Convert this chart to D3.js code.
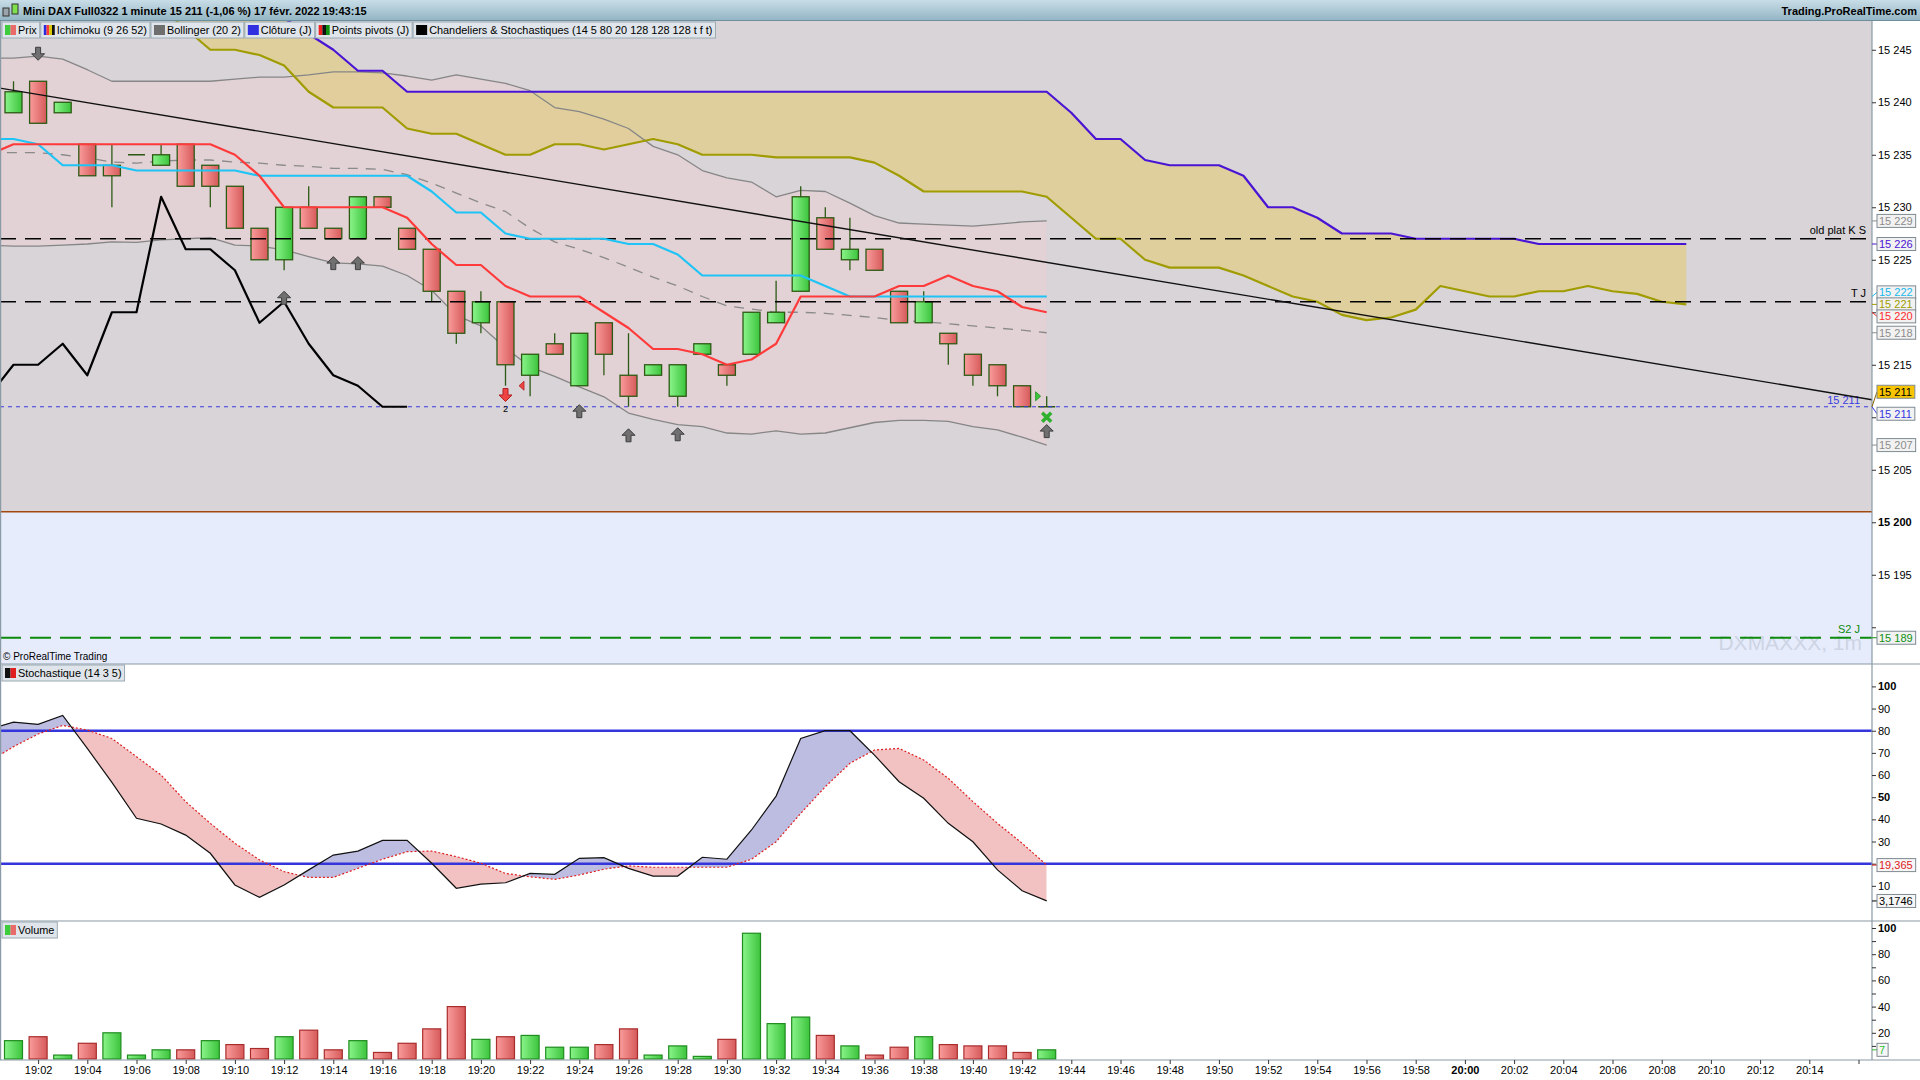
<!DOCTYPE html>
<html>
<head>
<meta charset="utf-8">
<title>Mini DAX Full0322 - 1 minute</title>
<script src="https://cdn.jsdelivr.net/npm/d3@7"></script>
<style>
  body { margin: 0; background: #fff; }
  svg { display: block; font-family: "Liberation Sans", Arial, sans-serif; }
</style>
</head>
<body>
<svg id="chart" width="1920" height="1080"></svg>
<script>
// ---- values; bar index 0 = 19:01 ----
var opens  = [15239,15242,15239,15236,15234,15235,15234,15236,15234,15232,15228,15225,15230,15228,15227,15231,15228,15226,15222,15219,15221,15214,15217,15213,15219,15214,15214,15212,15216,15215,15216,15219,15222,15229,15225,15226,15222,15219,15218,15216,15215,15213,15211];
var highs  = [15242,15242,15240,15236,15236,15235,15236,15236,15234,15232,15228,15230,15232,15228,15231,15231,15228,15226,15222,15222,15221,15216,15218,15218,15219,15218,15215,15215,15217,15215,15220,15223,15232,15230,15229,15226,15222,15222,15218,15216,15215,15213,15212];
var lows   = [15239,15238,15239,15233,15230,15235,15234,15232,15230,15228,15225,15224,15228,15227,15227,15230,15226,15221,15217,15218,15213,15212,15216,15213,15214,15211,15214,15211,15216,15213,15216,15219,15222,15226,15224,15224,15219,15219,15215,15213,15212,15211,15211];
var closes = [15241,15238,15240,15233,15233,15235,15235,15232,15232,15228,15225,15230,15228,15227,15231,15230,15226,15222,15218,15221,15215,15216,15216,15218,15216,15212,15215,15215,15217,15214,15220,15220,15231,15226,15226,15224,15219,15221,15217,15214,15213,15211,15211];
var volumes = [14,17,3,12,20,3,7,7,14,11,8,17,22,7,14,5,12,23,40,15,17,18,9,9,11,23,3,10,2,15,96,27,32,18,10,3,9,17,11,10,10,5,7];

// Bollinger (20 2), from index -1
var bbUpper  = [15244.2,15244.2,15244.4,15244.1,15243.1,15242.0,15242.0,15242.0,15242.0,15242.0,15242.2,15242.4,15242.4,15242.6,15242.9,15242.9,15242.8,15242.5,15242.1,15242.6,15242.2,15241.8,15241.1,15239.5,15239.1,15238.4,15237.5,15235.8,15235.0,15233.5,15232.8,15232.4,15231.0,15231.6,15231.5,15230.4,15229.2,15228.5,15228.4,15228.3,15228.2,15228.4,15228.6,15228.7];
var bbMiddle = [15235.2,15235.2,15235.2,15235.0,15234.7,15234.3,15234.2,15234.4,15234.5,15234.5,15234.3,15234.2,15234.0,15233.9,15233.7,15233.7,15233.6,15233.1,15232.3,15231.35,15230.4,15229.6,15228.0,15226.7,15226.0,15225.2,15224.3,15223.35,15222.5,15221.5,15220.6,15220.3,15220.0,15220.0,15219.9,15219.7,15219.5,15219.2,15219.1,15218.9,15218.7,15218.5,15218.3,15218.05];
var bbLower  = [15226.4,15226.3,15226.3,15226.4,15226.5,15226.7,15226.65,15226.9,15227.0,15227.1,15226.4,15226.3,15225.95,15225.3,15224.7,15224.6,15224.4,15223.5,15222.1,15219.7,15218.7,15216.6,15214.8,15213.9,15212.9,15211.95,15210.4,15209.8,15209.3,15209.1,15208.5,15208.4,15208.7,15208.4,15208.5,15209.0,15209.5,15209.7,15209.7,15209.6,15209.1,15208.8,15208.1,15207.35];

// Ichimoku (9 26 52): tenkan / kijun / chikou from index -1, senkou spans from index 6
var tenkan = [15235,15236,15236,15236,15236,15236,15236,15236,15236,15236,15235,15233,15230,15230,15230,15230,15230,15229,15226.5,15224.5,15224.5,15222.5,15221.5,15221.5,15221.5,15220,15218.5,15216.5,15216.5,15216,15215,15215.5,15217,15221.5,15221.5,15221.5,15221.5,15222.5,15222.5,15223.5,15222.5,15222,15220.5,15220];
var kijun  = [15236.5,15236.5,15236,15234,15234,15234,15233.5,15233.5,15233.5,15233.5,15233.5,15233,15233,15233,15233,15233,15233,15233,15231.5,15229.5,15229.5,15227.5,15227,15227,15227,15227,15226.5,15226.5,15225.5,15223.5,15223.5,15223.5,15223.5,15223.5,15222.5,15221.5,15221.5,15221.5,15221.5,15221.5,15221.5,15221.5,15221.5,15221.5];
var chikou = [15212,15215,15215,15217,15214,15220,15220,15231,15226,15226,15224,15219,15221,15217,15214,15213,15211,15211];
var senkouA = [15249,15247,15245,15245,15244.5,15243.5,15241,15239.5,15239.5,15239.5,15237.5,15237,15237,15236,15235,15235,15236,15236,15235.5,15236,15236.5,15236,15235,15235,15235,15234.75,15234.75,15234.75,15234.75,15234.25,15233,15231.5,15231.5,15231.5,15231.5,15231.5,15231,15229,15227,15227,15225,15224.25,15224.25,15224.25,15223.5,15222.5,15221.5,15221,15219.75,15219.25,15219.5,15220.25,15222.5,15222,15221.5,15221.5,15222,15222,15222.5,15222,15221.75,15221,15220.75];
var senkouB = [15250,15250,15250,15250,15250,15248,15246.5,15245,15243,15243,15241,15241,15241,15241,15241,15241,15241,15241,15241,15241,15241,15241,15241,15241,15241,15241,15241,15241,15241,15241,15241,15241,15241,15241,15241,15241,15241,15239,15236.5,15236.5,15234.5,15234,15234,15234,15233,15230,15230,15229,15227.5,15227.5,15227.5,15227,15227,15227,15227,15227,15226.5,15226.5,15226.5,15226.5,15226.5,15226.5,15226.5];

// Stochastique (14 3 5), from index -1
var stochK = [80.5,83.9,82.9,86.9,72.0,56.7,40.5,37.9,32.9,24.7,10.4,4.8,10.4,17.2,23.9,25.7,30.5,30.5,20.2,8.9,10.8,11.4,15.6,15.2,22.4,22.7,17.9,14.4,14.4,22.9,22.0,35.2,50.5,76.5,80,80,69.0,57.0,49.5,38.2,29.9,17.2,7.8,3.2];
var stochD = [66,72.8,78.5,82.4,80.3,76.5,68.3,60.0,48.0,38.2,29.2,21.7,16.4,13.8,13.8,17.9,22.0,25.4,25.7,23.2,20.2,15.6,14.1,12.9,14.9,17.5,19.0,18.4,18.4,18.4,18.4,22.0,29.9,42.7,54.7,65.3,71.3,72.0,66.8,58.5,48.0,38.2,29.2,19.4];
var stochLevels = [80, 20];

// drawn objects
var levelValues = [15227, 15221, 15189];
var levelNames = ["old plat K S", "T J", "S2 J"];
var zoneLevel = 15201;
var trendIdx = [-0.55, 75.55];
var trendPrice = [15241.35, 15211.67];

// signal markers (bar index, price of the tip)
var upArrowIdx = [11, 13, 14, 23, 25, 27, 42];
var upArrowTip = [15222, 15225.3, 15225.3, 15211.2, 15208.9, 15209, 15209.3];
var downArrowIdx = [1];
var downArrowTip = [15244];
var sellIdx = [20], sellTip = [15211.5], sellText = ["2"];
var leftTriIdx = [20.55], leftTriPrice = [15213];
var rightTriIdx = [41.55], rightTriPrice = [15212];
var crossIdx = [42], crossPrice = [15210];

// last-value tags on the right scale
var priceTagValues = [15228.7, 15226.5, 15221.5, 15220.75, 15220, 15218.05, 15211, 15211, 15207.35, 15189];
var priceTagTexts  = ["15 229", "15 226", "15 222", "15 221", "15 220", "15 218", "15 211", "15 211", "15 207", "15 189"];
var stochTagValues = [19.365, 3.1746];
var stochTagTexts  = ["19,365", "3,1746"];
var volTagValues = [7];
var volTagTexts = ["7"];

var titleText = "Mini DAX Full0322 1 minute 15 211 (-1,06 %) 17 févr. 2022 19:43:15";
var legendLabels = ["Prix", "Ichimoku (9 26 52)", "Bollinger (20 2)", "Clôture (J)", "Points pivots (J)", "Chandeliers & Stochastiques (14 5 80 20 128 128 128 t f t)"];

// ---- layout ----
var width = 1920, height = 1080;
var axisX = 1872;
var priceTop = 21, priceBottom = 664, stochBottom = 921, volBottom = 1060;

var t0 = new Date(2022, 1, 17, 19, 1);
function timeAt(i) { return new Date(t0.getTime() + i * 60000); }

var xIdx = d3.scaleLinear().domain([0, 1]).range([13.5, 38.1]);
var xTime = d3.scaleTime()
  .domain([timeAt(xIdx.invert(0)), timeAt(xIdx.invert(axisX))])
  .range([0, axisX]);
var yPrice = d3.scaleLinear().domain([15186.5, 15247.74]).range([priceBottom, priceTop]);
var yStoch = d3.scaleLinear().domain([0, 100]).range([908, 686.4]);
var yVol = d3.scaleLinear().domain([0, 100]).range([1059, 928]);

var fmtSpace = function (v) { return String(v).replace(/\B(?=(\d{3})+(?!\d))/g, " "); };

var svg = d3.select("#chart");
var defs = svg.append("defs");

function hGrad(id, c1, c2) {
  var g = defs.append("linearGradient").attr("id", id)
    .attr("x1", 0).attr("x2", 1).attr("y1", 0).attr("y2", 0);
  g.append("stop").attr("offset", 0).attr("stop-color", c1);
  g.append("stop").attr("offset", 1).attr("stop-color", c2);
}
hGrad("gUp", "#8af48a", "#3cc43c");
hGrad("gDown", "#fa9c9c", "#d65a5a");
var tg = defs.append("linearGradient").attr("id", "gTitle")
  .attr("x1", 0).attr("x2", 0).attr("y1", 0).attr("y2", 1);
tg.append("stop").attr("offset", 0).attr("stop-color", "#c8dde7");
tg.append("stop").attr("offset", 1).attr("stop-color", "#92b4c3");

defs.append("clipPath").attr("id", "clipPrice").append("rect")
  .attr("x", 0).attr("y", priceTop).attr("width", axisX).attr("height", priceBottom - priceTop);
defs.append("clipPath").attr("id", "clipStoch").append("rect")
  .attr("x", 0).attr("y", priceBottom).attr("width", axisX).attr("height", stochBottom - priceBottom);

svg.append("rect").attr("width", width).attr("height", height).attr("fill", "#fff");

/* ---------- price panel ---------- */
var price = svg.append("g").attr("clip-path", "url(#clipPrice)");

price.append("rect")
  .attr("x", 0).attr("y", priceTop).attr("width", axisX).attr("height", priceBottom - priceTop)
  .attr("fill", "#d8d4d8");
price.append("rect")
  .attr("x", 0).attr("y", yPrice(zoneLevel)).attr("width", axisX)
  .attr("height", priceBottom - yPrice(zoneLevel))
  .attr("fill", "#e6ecfc");
price.append("line")
  .attr("x1", 0).attr("x2", axisX).attr("y1", yPrice(zoneLevel)).attr("y2", yPrice(zoneLevel))
  .attr("stroke", "#a04a10").attr("stroke-width", 1.5);

price.append("text")
  .attr("x", 1862).attr("y", 650).attr("text-anchor", "end")
  .attr("font-size", 21).attr("fill", "#cdd4e4")
  .text("DXMAXXX, 1m");

var bb = bbUpper.map(function (u, j) { return { i: j - 1, u: u, m: bbMiddle[j], l: bbLower[j] }; });
price.append("path").datum(bb)
  .attr("d", d3.area().x(d => xIdx(d.i)).y0(d => yPrice(d.l)).y1(d => yPrice(d.u)))
  .attr("fill", "#e2d1d5");

var cloud = senkouA.map(function (a, j) { return { i: j + 6, a: a, b: senkouB[j] }; });
price.append("path").datum(cloud)
  .attr("d", d3.area().x(d => xIdx(d.i)).y0(d => yPrice(d.b)).y1(d => yPrice(d.a)))
  .attr("fill", "#e0cd87").attr("fill-opacity", 0.72);

function seriesLine(values, start, color, w, dash) {
  var pts = values.map(function (v, j) { return { i: j + start, v: v }; });
  var p = price.append("path").datum(pts)
    .attr("d", d3.line().x(d => xIdx(d.i)).y(d => yPrice(d.v)))
    .attr("fill", "none").attr("stroke", color).attr("stroke-width", w)
    .attr("stroke-linejoin", "round");
  if (dash) p.attr("stroke-dasharray", dash);
  return p;
}

seriesLine(bbUpper, -1, "#868686", 1.3);
seriesLine(bbLower, -1, "#868686", 1.3);
seriesLine(bbMiddle, -1, "#8a8a8a", 1.3, "10,8");
seriesLine(senkouA, 6, "#a09c00", 2.2);
seriesLine(senkouB, 6, "#4a14d4", 2.2);

// candles
var candles = opens.map(function (o, i) {
  return { i: i, o: o, h: highs[i], l: lows[i], c: closes[i] };
});
var cg = price.append("g");
cg.selectAll(".wick").data(candles).enter().append("line")
  .attr("x1", d => xIdx(d.i)).attr("x2", d => xIdx(d.i))
  .attr("y1", d => yPrice(d.h)).attr("y2", d => yPrice(d.l))
  .attr("stroke", "#2c5a14").attr("stroke-width", 1.3);
cg.selectAll(".body").data(candles.filter(d => d.o !== d.c)).enter().append("rect")
  .attr("x", d => xIdx(d.i) - 8.5).attr("width", 17)
  .attr("y", d => yPrice(Math.max(d.o, d.c)))
  .attr("height", d => yPrice(Math.min(d.o, d.c)) - yPrice(Math.max(d.o, d.c)))
  .attr("fill", d => d.c > d.o ? "url(#gUp)" : "url(#gDown)")
  .attr("stroke", "#2c5a14").attr("stroke-width", 1.3);
cg.selectAll(".doji").data(candles.filter(d => d.o === d.c)).enter().append("line")
  .attr("x1", d => xIdx(d.i) - 8.5).attr("x2", d => xIdx(d.i) + 8.5)
  .attr("y1", d => yPrice(d.c)).attr("y2", d => yPrice(d.c))
  .attr("stroke", "#2c5a14").attr("stroke-width", 1.5);

// horizontal levels
var levelStyle = [
  { color: "#000", w: 1.5, dash: "16,9", tx: 1866 },
  { color: "#000", w: 1.5, dash: "16,9", tx: 1866 },
  { color: "#0c8a0c", w: 2.2, dash: "21,9", tx: 1860 }
];
levelValues.forEach(function (v, k) {
  var s = levelStyle[k];
  price.append("line")
    .attr("x1", 0).attr("x2", axisX).attr("y1", yPrice(v)).attr("y2", yPrice(v))
    .attr("stroke", s.color).attr("stroke-width", s.w).attr("stroke-dasharray", s.dash);
  price.append("text")
    .attr("x", s.tx).attr("y", yPrice(v) - 5).attr("text-anchor", "end")
    .attr("font-size", 11).attr("fill", s.color).text(levelNames[k]);
});

// last close (dotted)
var lastClose = closes[closes.length - 1];
price.append("line")
  .attr("x1", 0).attr("x2", axisX).attr("y1", yPrice(lastClose)).attr("y2", yPrice(lastClose))
  .attr("stroke", "#3a3ae0").attr("stroke-width", 1).attr("stroke-dasharray", "4,4");
price.append("text")
  .attr("x", 1860).attr("y", yPrice(lastClose) - 3).attr("text-anchor", "end")
  .attr("font-size", 11).attr("fill", "#3a3ae0").text(fmtSpace(lastClose));

// trend line
price.append("line")
  .attr("x1", xIdx(trendIdx[0])).attr("y1", yPrice(trendPrice[0]))
  .attr("x2", xIdx(trendIdx[1])).attr("y2", yPrice(trendPrice[1]))
  .attr("stroke", "#111").attr("stroke-width", 1.4);

seriesLine(kijun, -1, "#1ec4f6", 2.2);
seriesLine(tenkan, -1, "#ff3a3a", 2.2);
seriesLine(chikou, -1, "#000", 2.2);

// markers
var upPath = "M0,0 L6.5,6.5 L2.5,6.5 L2.5,13 L-2.5,13 L-2.5,6.5 L-6.5,6.5 Z";
var downPath = "M0,0 L6.5,-6.5 L2.5,-6.5 L2.5,-13 L-2.5,-13 L-2.5,-6.5 L-6.5,-6.5 Z";
upArrowIdx.forEach(function (i, k) {
  price.append("path").attr("d", upPath)
    .attr("transform", "translate(" + xIdx(i) + "," + yPrice(upArrowTip[k]) + ")")
    .attr("fill", "#707070").attr("stroke", "#3e3e3e").attr("stroke-width", 1);
});
downArrowIdx.forEach(function (i, k) {
  price.append("path").attr("d", downPath)
    .attr("transform", "translate(" + xIdx(i) + "," + yPrice(downArrowTip[k]) + ")")
    .attr("fill", "#707070").attr("stroke", "#3e3e3e").attr("stroke-width", 1);
});
sellIdx.forEach(function (i, k) {
  price.append("path").attr("d", downPath)
    .attr("transform", "translate(" + xIdx(i) + "," + yPrice(sellTip[k]) + ")")
    .attr("fill", "#ee4444").attr("stroke", "#b02020").attr("stroke-width", 1);
  price.append("text").attr("x", xIdx(i)).attr("y", yPrice(sellTip[k]) + 10)
    .attr("text-anchor", "middle").attr("font-size", 9).attr("fill", "#000").text(sellText[k]);
});
leftTriIdx.forEach(function (i, k) {
  price.append("path").attr("d", "M0,0 L5,-4.5 L5,4.5 Z")
    .attr("transform", "translate(" + xIdx(i) + "," + yPrice(leftTriPrice[k]) + ")")
    .attr("fill", "#ee4444").attr("stroke", "#b02020").attr("stroke-width", 0.8);
});
rightTriIdx.forEach(function (i, k) {
  price.append("path").attr("d", "M5,0 L0,-4.5 L0,4.5 Z")
    .attr("transform", "translate(" + xIdx(i) + "," + yPrice(rightTriPrice[k]) + ")")
    .attr("fill", "#3cc83c").attr("stroke", "#1e8c1e").attr("stroke-width", 0.8);
});
crossIdx.forEach(function (i, k) {
  var cx = xIdx(i), cy = yPrice(crossPrice[k]);
  price.append("path")
    .attr("d", "M" + (cx - 4.5) + "," + (cy - 4.5) + "L" + (cx + 4.5) + "," + (cy + 4.5) +
               "M" + (cx + 4.5) + "," + (cy - 4.5) + "L" + (cx - 4.5) + "," + (cy + 4.5))
    .attr("stroke", "#2fb02f").attr("stroke-width", 3.5);
});

price.append("text").attr("x", 3).attr("y", 660).attr("font-size", 10).attr("fill", "#000")
  .text("© ProRealTime Trading");

/* ---------- stochastic panel ---------- */
var stoch = stochK.map(function (k, j) { return { i: j - 1, k: k, d: stochD[j] }; });
defs.append("clipPath").attr("id", "clipAboveD").append("path").datum(stoch)
  .attr("d", d3.area().x(d => xIdx(d.i)).y0(priceBottom).y1(d => yStoch(d.d)));
defs.append("clipPath").attr("id", "clipBelowD").append("path").datum(stoch)
  .attr("d", d3.area().x(d => xIdx(d.i)).y0(stochBottom).y1(d => yStoch(d.d)));

var sg = svg.append("g").attr("clip-path", "url(#clipStoch)");
var between = d3.area().x(d => xIdx(d.i)).y0(d => yStoch(d.d)).y1(d => yStoch(d.k));
sg.append("path").datum(stoch).attr("d", between)
  .attr("fill", "#bdbde2").attr("clip-path", "url(#clipAboveD)");
sg.append("path").datum(stoch).attr("d", between)
  .attr("fill", "#f2c2c2").attr("clip-path", "url(#clipBelowD)");
stochLevels.forEach(function (v) {
  sg.append("line").attr("x1", 0).attr("x2", axisX).attr("y1", yStoch(v)).attr("y2", yStoch(v))
    .attr("stroke", "#3535dc").attr("stroke-width", 2.4);
});
sg.append("path").datum(stoch)
  .attr("d", d3.line().x(d => xIdx(d.i)).y(d => yStoch(d.d)))
  .attr("fill", "none").attr("stroke", "#e02020").attr("stroke-width", 1.2)
  .attr("stroke-dasharray", "2,2");
sg.append("path").datum(stoch)
  .attr("d", d3.line().x(d => xIdx(d.i)).y(d => yStoch(d.k)))
  .attr("fill", "none").attr("stroke", "#111").attr("stroke-width", 1.2);

/* ---------- volume panel ---------- */
var vols = volumes.map(function (v, i) {
  var prev = i > 0 ? closes[i - 1] : opens[i];
  return { i: i, v: v, up: closes[i] >= prev };
});
svg.append("g").selectAll("rect").data(vols).enter().append("rect")
  .attr("x", d => xIdx(d.i) - 9).attr("width", 18)
  .attr("y", d => yVol(d.v)).attr("height", d => yVol(0) - yVol(d.v))
  .attr("fill", d => d.up ? "url(#gUp)" : "url(#gDown)")
  .attr("stroke", d => d.up ? "#1e8c1e" : "#a82c2c").attr("stroke-width", 1.2);

/* ---------- frames & axes ---------- */
var frame = svg.append("g").attr("stroke", "#8a9aa6").attr("stroke-width", 1.2);
[priceBottom, stochBottom, volBottom].forEach(function (y) {
  frame.append("line").attr("x1", 0).attr("x2", width).attr("y1", y).attr("y2", y);
});
frame.append("line").attr("x1", axisX).attr("x2", axisX).attr("y1", priceTop).attr("y2", volBottom);
frame.append("line").attr("x1", 0.6).attr("x2", 0.6).attr("y1", priceTop).attr("y2", volBottom);

function styleAxis(g, bold) {
  g.select(".domain").remove();
  g.selectAll(".tick line").attr("stroke", "#333");
  g.selectAll(".tick text").attr("font-size", 11).attr("fill", "#000")
    .attr("font-family", "Liberation Sans, Arial, sans-serif")
    .attr("font-weight", d => bold(d) ? "bold" : null);
}

var ay = svg.append("g").attr("transform", "translate(" + axisX + ",0)")
  .call(d3.axisRight(yPrice).tickValues(d3.range(15190, 15246, 5)).tickFormat(fmtSpace).tickSize(4).tickPadding(2));
styleAxis(ay, d => d === 15200);

var as = svg.append("g").attr("transform", "translate(" + axisX + ",0)")
  .call(d3.axisRight(yStoch).tickValues(d3.range(10, 101, 10)).tickSize(4).tickPadding(2));
styleAxis(as, d => d === 100 || d === 50);

var av = svg.append("g").attr("transform", "translate(" + axisX + ",0)")
  .call(d3.axisRight(yVol).tickValues(d3.range(10, 101, 10))
    .tickFormat(d => d % 20 === 0 ? d : "").tickSize(4).tickPadding(2));
styleAxis(av, d => d === 100);

var ax = svg.append("g").attr("transform", "translate(0," + volBottom + ")")
  .call(d3.axisBottom(xTime).ticks(d3.timeMinute.every(2)).tickFormat(d3.timeFormat("%H:%M")).tickSize(4).tickPadding(2));
styleAxis(ax, d => d.getHours() === 20 && d.getMinutes() === 0);
ax.selectAll(".tick text").filter(d => xTime(d) > 1845).remove();

// value tags on the right scale; shift = layout nudge for the stacked current-price pair
function drawTags(values, texts, yScale, colors, fills, shifts, gap) {
  var tags = values.map(function (v, k) {
    return { y: yScale(v) + shifts[k], y0: yScale(v), text: texts[k], color: colors[k], fill: fills[k] };
  });
  tags.sort((a, b) => a.y - b.y);
  for (var it = 0; it < 40; it++) {
    for (var k = 1; k < tags.length; k++) {
      var d = tags[k].y - tags[k - 1].y;
      if (d < gap) { var s = (gap - d) / 2; tags[k - 1].y -= s; tags[k].y += s; }
    }
  }
  var g = svg.append("g");
  tags.forEach(function (t) {
    g.append("line").attr("x1", axisX).attr("x2", axisX + 5).attr("y1", t.y0).attr("y2", t.y)
      .attr("stroke", t.color).attr("stroke-width", 1);
    var r = g.append("rect").attr("x", axisX + 5).attr("y", t.y - 6.5).attr("height", 13)
      .attr("fill", t.fill).attr("stroke", "#7f8a92").attr("stroke-width", 1);
    var tx = g.append("text").attr("x", axisX + 7).attr("y", t.y + 4)
      .attr("font-size", 11).attr("fill", t.fill === "#f8c400" ? "#000" : t.color).text(t.text);
    r.attr("width", tx.node().getComputedTextLength() + 5);
  });
  return tags.map(t => t.y);
}
// axis labels that sit under a tag are hidden, as on the platform
function hideUnder(axisG, scale, tagYs) {
  axisG.selectAll(".tick text").filter(function (d) {
    var y = scale(d);
    return tagYs.some(ty => Math.abs(ty - y) < 11);
  }).remove();
}

var pTags = drawTags(priceTagValues, priceTagTexts, yPrice,
  ["#8c8c8c", "#4a14d4", "#18b8ec", "#a09c00", "#ff2a2a", "#8c8c8c", "#806000", "#3535e0", "#8c8c8c", "#109010"],
  ["#f2f2f2", "#f2f2f2", "#f2f2f2", "#f2f2f2", "#f2f2f2", "#f2f2f2", "#f8c400", "#f2f2f2", "#f2f2f2", "#f2f2f2"],
  [0, 0, 0, 0, 0, 0, -15, 7, 0, 0], 12);
hideUnder(ay, yPrice, pTags);
var sTags = drawTags(stochTagValues, stochTagTexts, yStoch, ["#e02020", "#000"], ["#f6f6f6", "#f6f6f6"], [0, 0], 12);
hideUnder(as, yStoch, sTags);
var vTags = drawTags(volTagValues, volTagTexts, yVol, ["#30c030"], ["#f6f6f6"], [0], 12);
hideUnder(av, yVol, vTags);

/* ---------- title bar & legends ---------- */
svg.append("rect").attr("x", 0).attr("y", 0).attr("width", width).attr("height", priceTop)
  .attr("fill", "url(#gTitle)");
svg.append("line").attr("x1", 0).attr("x2", width).attr("y1", priceTop - 0.5).attr("y2", priceTop - 0.5)
  .attr("stroke", "#6d8e9c");
svg.append("rect").attr("x", 3).attr("y", 8).attr("width", 6).attr("height", 8)
  .attr("fill", "#9aa4aa").attr("stroke", "#333");
svg.append("rect").attr("x", 12).attr("y", 4).attr("width", 6).attr("height", 10)
  .attr("fill", "#7ee04a").attr("stroke", "#333");
svg.append("text").attr("x", 23).attr("y", 15).attr("font-size", 11).attr("font-weight", "bold")
  .attr("fill", "#000").text(titleText);
svg.append("text").attr("x", 1917).attr("y", 15).attr("text-anchor", "end").attr("font-size", 11)
  .attr("font-weight", "bold").attr("fill", "#000").text("Trading.ProRealTime.com");

function legendBox(x, y, icons, label) {
  var h = 16, iw = 11;
  var g = svg.append("g");
  var box = g.append("rect").attr("x", x).attr("y", y).attr("height", h)
    .attr("fill", "#dfe5ea").attr("stroke", "#9aaab4").attr("stroke-width", 1);
  icons.forEach(function (c, k) {
    g.append("rect").attr("x", x + 3 + k * iw / icons.length).attr("y", y + 3)
      .attr("width", iw / icons.length).attr("height", h - 6).attr("fill", c);
  });
  var t = g.append("text").attr("x", x + 3 + iw + 2).attr("y", y + h - 4)
    .attr("font-size", 10.9).attr("fill", "#000").text(label);
  var w = 3 + iw + 2 + t.node().getComputedTextLength() + 3;
  box.attr("width", w);
  return w;
}
var legendIcons = [
  ["#3ccc3c", "#e86a6a"],
  ["#2a2ae0", "#ff3a3a", "#d8c800", "#111"],
  ["#6e6e6e"],
  ["#3030e0"],
  ["#ee2020", "#111", "#109010"],
  ["#000"]
];
var lx = 2;
legendLabels.forEach(function (label, k) {
  lx += legendBox(lx, priceTop + 1, legendIcons[k], label) + 1;
});
legendBox(2, priceBottom + 1, ["#111", "#e02020"], "Stochastique (14 3 5)");
legendBox(2, stochBottom + 1, ["#3ccc3c", "#e86a6a"], "Volume");
</script>
</body>
</html>
